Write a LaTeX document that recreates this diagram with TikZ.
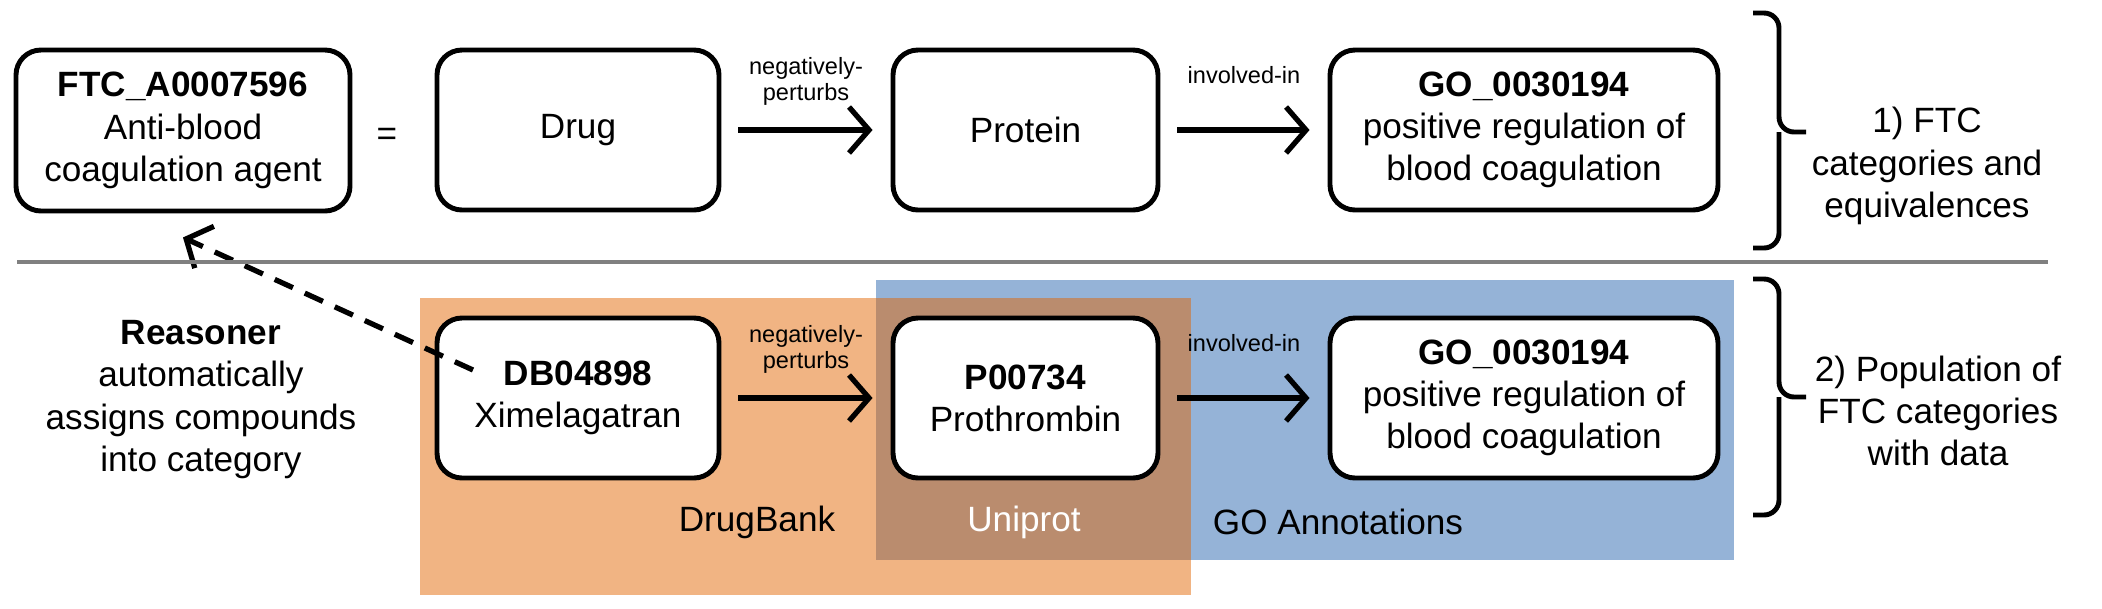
\documentclass[tikz,border=0pt]{standalone}
\usepackage{fontspec}
\setmainfont{Liberation Sans}
\usetikzlibrary{arrows.meta}
\definecolor{dbank}{HTML}{F1B483}
\definecolor{goann}{HTML}{95B3D7}
\definecolor{uniprot}{HTML}{BA8C6E}

\begin{document}
\begin{tikzpicture}[
		>={Straight Barb[length=2mm,width=4.6mm]},
		every node/.style={font=\fontsize{10}{12}\selectfont, align=center},
		concept/.style={draw, line width=1.4pt, rounded corners=2.5mm, fill=white, minimum height=1.6cm},
		rel/.style={font=\fontsize{6.7}{7.6}\selectfont},
		link/.style={->, line width=1.5pt, shorten <=1.7mm, shorten >=1.8mm},
		bracket/.style={line width=1.4pt, rounded corners=1.5mm}]
			\useasboundingbox (0,0) rectangle (21.02,6.08);

			\fill[dbank] (4.20,0.13) rectangle (11.91,3.10);
			\fill[goann] (8.76,0.48) rectangle (17.34,3.28);
			\fill[uniprot] (8.76,0.48) rectangle (11.91,3.10);

			\node[concept, minimum width=3.34cm, minimum height=1.61cm] (FTC) at (1.83,4.775) {\textbf{FTC\_A0007596}\\Anti-blood\\coagulation agent};
			\node (eq) at (3.87,4.71) {=};
			\node[concept, minimum width=2.82cm] (Drug) at (5.78,4.78) {Drug};
			\node[concept, minimum width=2.65cm] (Prot) at (10.255,4.78) {Protein};
			\node[concept, minimum width=3.88cm] (GO) at (15.24,4.78) {\textbf{GO\_0030194}\\positive regulation of\\blood coagulation};

			\node[concept, minimum width=2.82cm] (DB) at (5.78,2.10) {\textbf{DB04898}\\Ximelagatran};
			\node[concept, minimum width=2.65cm] (P) at (10.255,2.10) {\textbf{P00734}\\Prothrombin};
			\node[concept, minimum width=3.88cm] (GOd) at (15.24,2.10) {\textbf{GO\_0030194}\\positive regulation of\\blood coagulation};

			\node (Reas) at (2.01,2.085) {\textbf{Reasoner}\\automatically\\assigns compounds\\into category};
			\node (DBank) at (7.57,0.86) {DrugBank};
			\node[text=white] (Uni) at (10.24,0.86) {Uniprot};
			\node (GOann) at (13.38,0.86) {GO Annotations};

			\node (Cat) at (19.27,4.42) {1) FTC\\categories and\\equivalences};
			\node (Pop) at (19.38,1.97) {2) Population of\\FTC categories\\with data};

			\draw[link] (Drug) -- node[rel, above=1mm] {negatively-\\perturbs} (Prot);
			\draw[link] (Prot) -- node[rel, above=3.2mm] {involved-in} (GO);
			\draw[link] (DB) -- node[rel, above=1mm] {negatively-\\perturbs} (P);
			\draw[link] (P) -- node[rel, above=3.2mm] {involved-in} (GOd);

			\coordinate (hint) at (4.73,2.38);
			\draw[->, line width=1.5pt, dash pattern=on 2mm off 1.3mm] (hint) -- ([yshift=-2.4mm]FTC.south);

			\draw[gray, line width=1pt] (0.17,3.46) -- (20.48,3.46);

			\draw[bracket] (17.53,5.95) -- (17.79,5.95) -- (17.79,4.76) -- (18.06,4.76);
			\draw[bracket] (17.79,4.76) -- (17.79,3.60) -- (17.53,3.60);
			\draw[bracket] (17.53,3.29) -- (17.79,3.29) -- (17.79,2.11) -- (18.06,2.11);
			\draw[bracket] (17.79,2.11) -- (17.79,0.93) -- (17.53,0.93);
		\end{tikzpicture}
\end{document}
